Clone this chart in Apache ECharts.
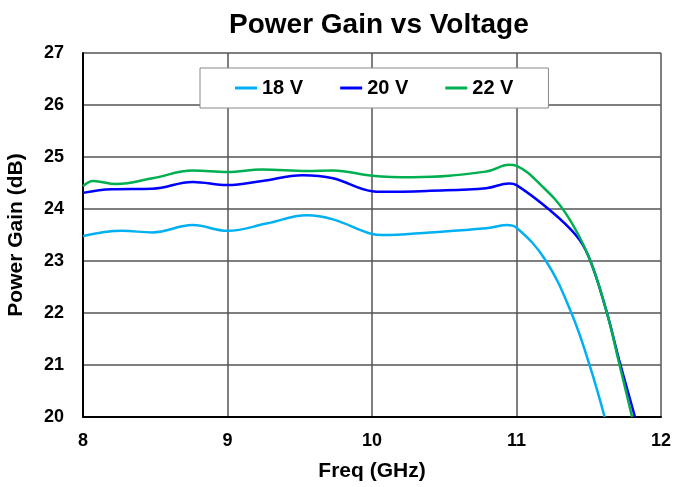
<!DOCTYPE html>
<html>
<head>
<meta charset="utf-8">
<script src="https://cdn.jsdelivr.net/npm/echarts@6/dist/echarts.min.js"></script>
<style>
html,body{margin:0;padding:0;background:#fff;}
#chart{width:677px;height:487px;}
</style>
</head>
<body>
<div id="chart"></div>
<script>
// 曲线数据 [GHz, dB]
var v18 = [[8.0,23.48],[8.27,23.58],[8.48,23.55],[8.76,23.69],[9.0,23.58],[9.27,23.72],[9.55,23.88],[9.73,23.80],[10.0,23.52],[10.07,23.50],[10.4,23.55],[10.79,23.63],[10.93,23.69],[11.0,23.64],[11.2,23.02],[11.38,22.0],[11.51,20.96],[11.61,20.0]];
var v20 = [[8.0,24.31],[8.2,24.38],[8.48,24.39],[8.76,24.52],[9.0,24.46],[9.24,24.54],[9.52,24.65],[9.73,24.59],[10.0,24.34],[10.07,24.33],[10.4,24.35],[10.79,24.40],[10.95,24.49],[11.0,24.46],[11.23,23.98],[11.41,23.5],[11.5,23.08],[11.62,22.06],[11.71,21.1],[11.82,20.0]];
var v22 = [[8.0,24.44],[8.07,24.54],[8.23,24.48],[8.48,24.59],[8.76,24.74],[9.0,24.71],[9.24,24.76],[9.55,24.73],[9.73,24.74],[10.0,24.64],[10.28,24.61],[10.79,24.72],[10.95,24.85],[11.0,24.83],[11.18,24.43],[11.34,23.92],[11.5,23.08],[11.62,22.06],[11.71,21.04],[11.80,20.0]];
var seriesNames = ["18 V","20 V","22 V"];
var lineColor = ["#00B0F0","#0000FF","#00B050"];

var fontFam = "Liberation Sans, Arial, sans-serif";
var myChart = echarts.init(document.getElementById('chart'));

function mk(name, data, color){
    return {
        name: name,
        type: 'line',
        data: data,
        smooth: 0.4,
        showSymbol: false,
        lineStyle: {color: color, width: 2.5},
        itemStyle: {color: color}
    };
}

myChart.setOption({
    animation: false,
    title: {
        text: 'Power Gain vs Voltage',
        left: 224,
        top: 6,
        textStyle: {fontFamily: fontFam, fontSize: 28, fontWeight: 'bold', color: '#000'}
    },
    legend: {
        data: seriesNames,
        top: 68,
        left: 200,
        padding: [10, 35, 10, 35],
        itemGap: 37,
        itemWidth: 22,
        itemHeight: 3,
        icon: 'rect',
        backgroundColor: '#fff',
        borderColor: '#888',
        borderWidth: 1,
        textStyle: {fontFamily: fontFam, fontSize: 20, fontWeight: 'bold', color: '#000'}
    },
    grid: {left: 83, right: 16, top: 53, bottom: 70, outerBoundsMode: 'none', containLabel: false},
    xAxis: {
        type: 'value',
        min: 8, max: 12, interval: 1,
        name: 'Freq (GHz)',
        nameLocation: 'middle',
        nameGap: 44,
        nameTextStyle: {fontFamily: fontFam, fontSize: 21, fontWeight: 'bold', color: '#000'},
        axisLine: {lineStyle: {color: '#000', width: 2}},
        axisTick: {show: false},
        axisLabel: {margin: 15, fontFamily: fontFam, fontSize: 18, fontWeight: 'bold', color: '#000'},
        splitLine: {show: true, lineStyle: {color: '#555', width: 1.5}}
    },
    yAxis: {
        type: 'value',
        min: 20, max: 27, interval: 1,
        name: 'Power Gain (dB)',
        nameLocation: 'middle',
        nameGap: 56,
        nameTextStyle: {fontFamily: fontFam, fontSize: 21, fontWeight: 'bold', color: '#000'},
        axisLine: {show: true, lineStyle: {color: '#000', width: 2}},
        axisTick: {show: false},
        axisLabel: {margin: 19, fontFamily: fontFam, fontSize: 18, fontWeight: 'bold', color: '#000'},
        splitLine: {show: true, lineStyle: {color: '#555', width: 1.5}}
    },
    series: [
        mk(seriesNames[0], v18, lineColor[0]),
        mk(seriesNames[1], v20, lineColor[1]),
        mk(seriesNames[2], v22, lineColor[2])
    ]
});
window.addEventListener("resize", function() {
    myChart.resize();
});
</script>
</body>
</html>
